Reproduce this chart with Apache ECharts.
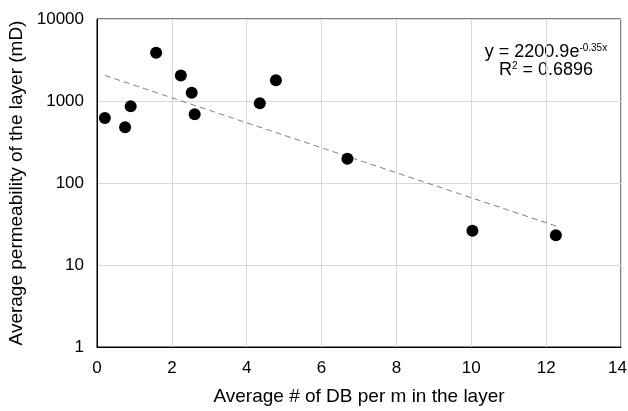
<!DOCTYPE html>
<html>
<head>
<meta charset="utf-8">
<script src="https://cdn.jsdelivr.net/npm/echarts@6/dist/echarts.min.js"></script>
<style>
  html, body { margin: 0; padding: 0; background: #fff; }
  #chart { width: 628px; height: 411px; }
</style>
</head>
<body>
<div id="chart"></div>
<script>
// 数据：每层平均 DB 数 与 平均渗透率 (mD)
const dbPerM = [0.21, 0.75, 0.9, 1.58, 2.24, 2.53, 2.61, 4.35, 4.78, 6.69, 10.03, 12.26]
const permeability = [620, 480, 860, 3880, 2040, 1260, 690, 940, 1790, 198, 26.2, 23]

// 趋势线端点
const trendX = [0.21, 12.3]
const trendY = [2050, 29.5]

const xMax = 14
const yTicks = [1, 10, 100, 1000, 10000]
const equationText = 'y = 2200.9e'
const equationExp = '-0.35x'
const r2Text = ' = 0.6896'

const FONT = "'Liberation Sans', Arial, sans-serif"

const chart = echarts.init(document.getElementById('chart'))

const option = {
  animation: false,
  grid: {
    left: 97,
    top: 19,
    right: 7,
    bottom: 64,
    outerBoundsMode: 'none',
    containLabel: false,
    show: true,
    borderColor: '#000',
    borderWidth: 1
  },
  xAxis: {
    type: 'value',
    min: 0,
    max: xMax,
    interval: 2,
    name: 'Average # of DB per m in the layer',
    nameLocation: 'middle',
    nameGap: 40,
    nameTextStyle: { fontFamily: FONT, fontSize: 19, color: '#000' },
    axisLine: { lineStyle: { color: '#000' } },
    axisTick: { show: false },
    axisLabel: {
      fontFamily: FONT, fontSize: 17, color: '#000', margin: 13,
      // 最右侧标签稍微左移，避免被裁掉
      formatter: v => v === xMax ? '{m|' + v + '}' : String(v),
      rich: {
        m: { fontFamily: FONT, fontSize: 17, color: '#000', padding: [0, 7, 0, 0] }
      }
    },
    splitLine: { lineStyle: { color: '#d9d9d9' } }
  },
  yAxis: {
    type: 'log',
    logBase: 10,
    min: yTicks[0],
    max: yTicks[yTicks.length - 1],
    name: 'Average permeability of the layer (mD)',
    nameLocation: 'middle',
    nameGap: 70,
    nameTextStyle: { fontFamily: FONT, fontSize: 19, color: '#000' },
    axisLine: { show: true, lineStyle: { color: '#000' } },
    axisTick: { show: false },
    axisLabel: {
      fontFamily: FONT, fontSize: 17, color: '#000', margin: 13,
      formatter: v => String(v)
    },
    splitLine: { lineStyle: { color: '#d9d9d9' } }
  },
  series: [
    {
      type: 'line',
      data: trendX.map((x, i) => [x, trendY[i]]),
      symbol: 'none',
      lineStyle: { color: '#7f7f7f', width: 1, type: [6, 4] },
      z: 2
    },
    {
      type: 'scatter',
      data: dbPerM.map((x, i) => [x, permeability[i]]),
      symbolSize: 12,
      itemStyle: { color: '#000', opacity: 1 },
      z: 3
    }
  ],
  graphic: [
    {
      type: 'text',
      x: 546,
      y: 43,
      style: {
        text: '{a|' + equationText + '}{s|' + equationExp + '}',
        align: 'center',
        rich: {
          a: { fontFamily: FONT, fontSize: 18, color: '#000' },
          s: { fontFamily: FONT, fontSize: 10, color: '#000', verticalAlign: 'top', padding: [0, 0, 8, 0] }
        }
      }
    },
    {
      type: 'text',
      x: 546,
      y: 61,
      style: {
        text: '{a|R}{s|2}{a|' + r2Text + '}',
        align: 'center',
        rich: {
          a: { fontFamily: FONT, fontSize: 18, color: '#000' },
          s: { fontFamily: FONT, fontSize: 10, color: '#000', verticalAlign: 'top', padding: [0, 0, 8, 0] }
        }
      }
    }
  ]
}

chart.setOption(option)
</script>
</body>
</html>
